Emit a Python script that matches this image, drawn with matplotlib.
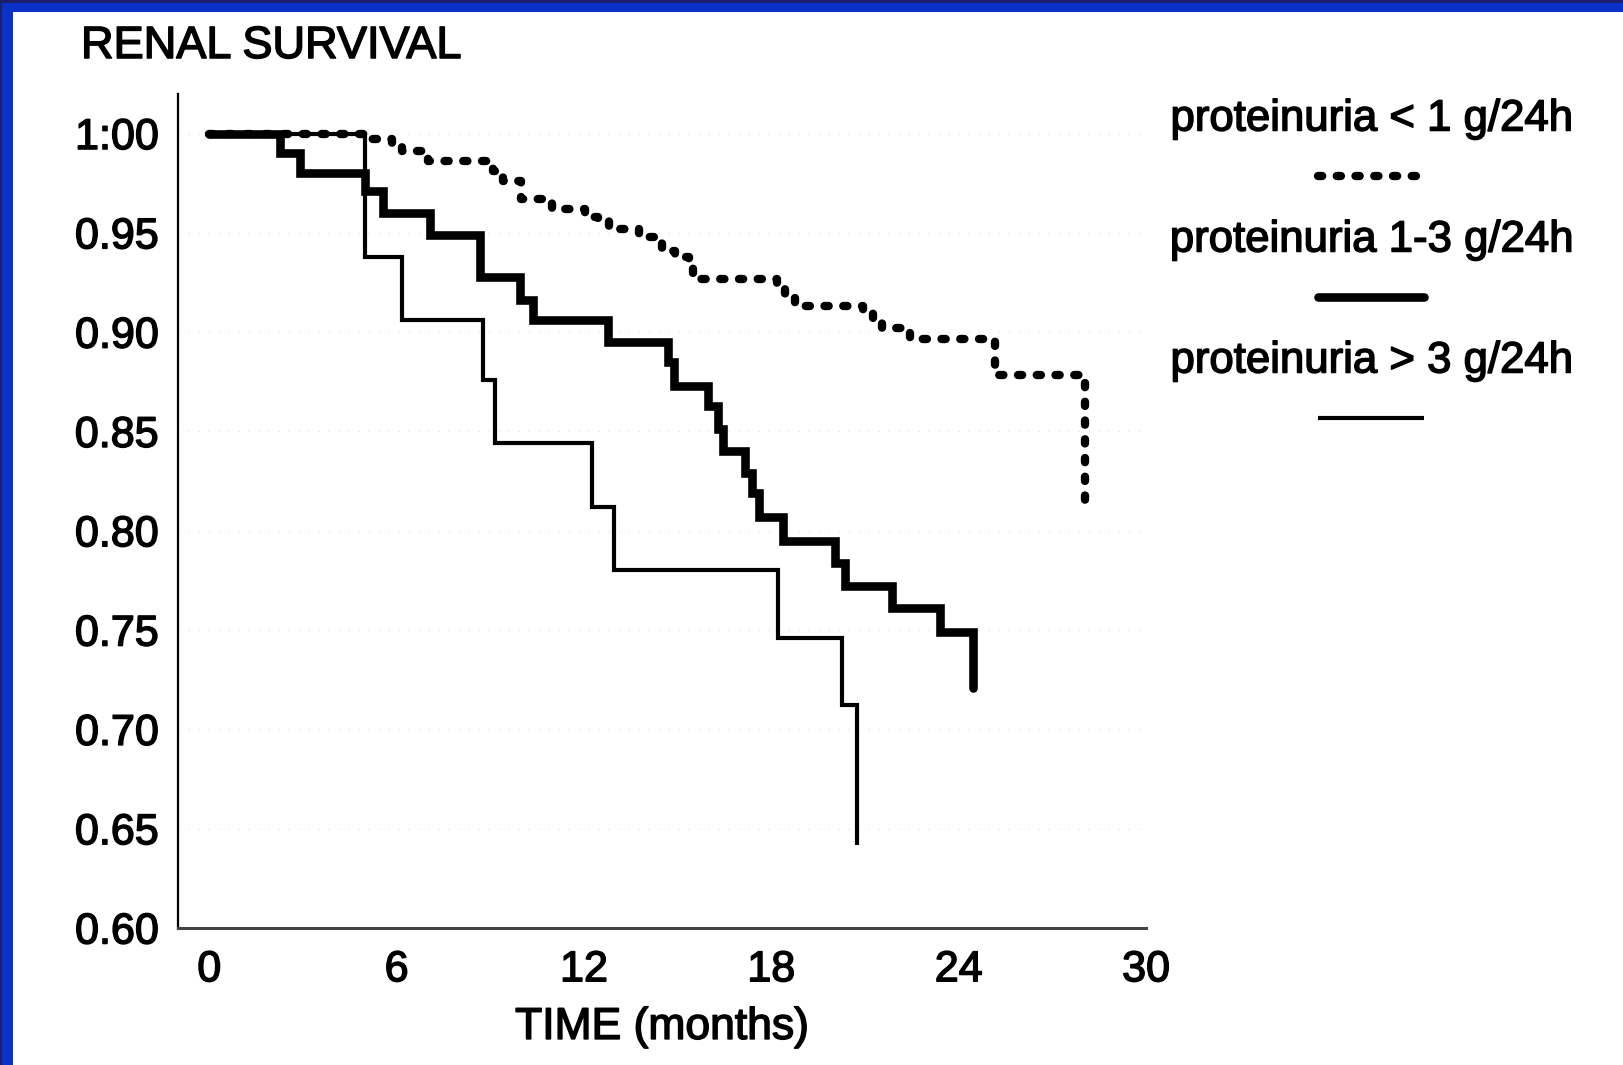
import matplotlib
matplotlib.use("Agg")
import matplotlib.pyplot as plt
import matplotlib.patheffects as pe
from matplotlib.lines import Line2D
from matplotlib.patches import Rectangle

plt.rcParams["font.family"] = ["Liberation Sans", "DejaVu Sans"]

# step points (time in months, survival)
time_low = [0, 5.0, 5.85, 6.17, 7.02, 9.10, 9.42, 10.0, 10.97, 12.04, 12.45, 12.79,
            13.75, 14.28, 14.5, 14.93, 15.35, 15.5, 18.18, 18.44, 18.76, 20.95,
            21.27, 21.55, 22.45, 25.17, 28.05]
surv_low = [1.0, 0.997, 0.995, 0.991, 0.986, 0.981, 0.976, 0.967, 0.962, 0.958, 0.9565,
            0.952, 0.948, 0.946, 0.941, 0.938, 0.935, 0.927, 0.923, 0.918, 0.913,
            0.9095, 0.9045, 0.902, 0.8965, 0.8785, 0.8106]

time_mid = [0, 2.27, 2.91, 5.0, 5.57, 7.08, 8.68, 9.96, 10.38, 12.78, 14.7, 14.9,
            15.96, 16.3, 16.46, 17.17, 17.38, 17.6, 18.38, 20.05, 20.37, 21.86,
            23.4, 24.47]
surv_mid = [1.0, 0.990, 0.980, 0.971, 0.960, 0.949, 0.928, 0.916, 0.906, 0.895, 0.885,
            0.873, 0.863, 0.851, 0.840, 0.829, 0.819, 0.807, 0.795, 0.784, 0.772,
            0.761, 0.749, 0.721]

time_high = [0, 5.0, 6.17, 8.77, 9.16, 12.25, 12.95, 18.23, 20.26, 20.74]
surv_high = [1.0, 0.938, 0.906, 0.876, 0.844, 0.812, 0.780, 0.746, 0.7125, 0.642]

x_ticks = [0, 6, 12, 18, 24, 30]
y_ticks = [0.60, 0.65, 0.70, 0.75, 0.80, 0.85, 0.90, 0.95, 1.00]
y_tick_labels = ["0.60", "0.65", "0.70", "0.75", "0.80", "0.85", "0.90", "0.95", "1:00"]
legend_labels = ["proteinuria < 1 g/24h", "proteinuria 1-3 g/24h", "proteinuria > 3 g/24h"]

W, H = 1623, 1065
fig = plt.figure(figsize=(W / 100, H / 100), dpi=100)
fig.patch.set_facecolor("white")

# scanned text looks a bit heavier than plain regular weight
heavy = [pe.withStroke(linewidth=1.1, foreground="black")]

ax = fig.add_axes([178 / W, 1 - 928 / H, (1146 - 178) / W, (928 - 93.8) / H])
ax.set_xlim(-1, 30)
ax.set_ylim(0.60, 1.02)

dot_style = dict(color="black", lw=6.0, linestyle=(0, (0.5, 1.75)),
                 dash_capstyle="round", solid_capstyle="round")
thick_style = dict(color="black", lw=6.2, solid_capstyle="round", solid_joinstyle="miter")
thin_style = dict(color="black", lw=3.0, solid_capstyle="butt", solid_joinstyle="miter")

ax.step(time_high, surv_high, where="post", zorder=2, **thin_style)
ax.step(time_mid, surv_mid, where="post", zorder=3, **thick_style)
ax.step(time_low, surv_low, where="post", zorder=4, **dot_style)

ax.set_xticks(x_ticks)
ax.set_yticks(y_ticks)
ax.set_yticklabels(y_tick_labels)
ax.tick_params(length=0, labelsize=31, colors="black")
ax.tick_params(axis="x", pad=16)
ax.tick_params(axis="y", pad=14)
for lab in ax.get_xticklabels() + ax.get_yticklabels():
    lab.set_path_effects(heavy)
ax.grid(axis="y", color="#e4e4e4", linestyle=(0, (1, 7)), lw=0.9)
for side in ["top", "right"]:
    ax.spines[side].set_visible(False)
ax.spines["left"].set_linewidth(1.6)
ax.spines["bottom"].set_linewidth(2.2)
ax.spines["bottom"].set_color("#444444")

xl = ax.set_xlabel("TIME (months)", fontsize=32, labelpad=12)
xl.set_path_effects(heavy)

fig.text(81 / W, 1 - 46.5 / H, "RENAL SURVIVAL", fontsize=32.5, ha="left", va="center",
         path_effects=heavy)

# hand-made legend on the right
legend_text_y = [119, 240, 361]
legend_line_y = [176, 297, 418]
legend_styles = [dot_style, thick_style, thin_style]
for label, ty, ly, style in zip(legend_labels, legend_text_y, legend_line_y, legend_styles):
    fig.text(1372 / W, 1 - ty / H, label, fontsize=31.5, ha="center", va="center",
             path_effects=heavy)
    fig.add_artist(Line2D([1318 / W, 1424 / W], [1 - ly / H, 1 - ly / H],
                          transform=fig.transFigure, **style))

# blue slide frame on top and left
fig.add_artist(Rectangle((0, 1 - 12 / H), 1, 12 / H, transform=fig.transFigure,
                         color="#0b32c8", lw=0))
fig.add_artist(Rectangle((0, 0), 13 / W, 1, transform=fig.transFigure,
                         color="#0b32c8", lw=0))
fig.add_artist(Rectangle((0, 1 - 3 / H), 1, 3 / H, transform=fig.transFigure,
                         color="#1b1f6b", lw=0))
fig.add_artist(Rectangle((0, 0), 2 / W, 1, transform=fig.transFigure,
                         color="#1b1f6b", lw=0))

fig.savefig("out.png", dpi=100)
